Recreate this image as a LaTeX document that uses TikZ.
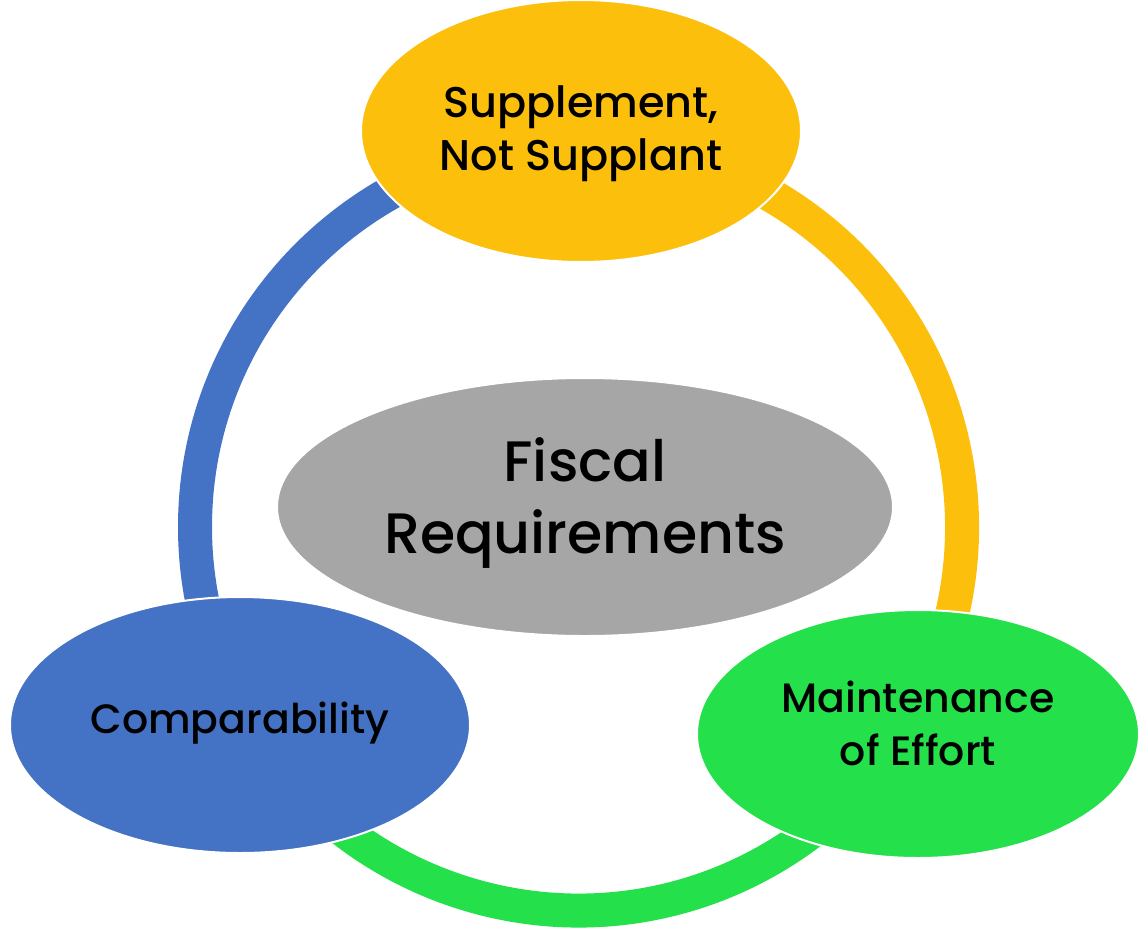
\documentclass[tikz,border=0pt]{standalone}
\usepackage{fontspec}
\setmainfont{Poppins Medium}
\usetikzlibrary{shapes.geometric}
\definecolor{cgold}{HTML}{FCBF0C}
\definecolor{cblue}{HTML}{4472C4}
\definecolor{cgreen}{HTML}{24E04A}
\definecolor{cgray}{HTML}{A6A6A6}
\begin{document}
\begin{tikzpicture}[x=1pt,y=1pt,
  ring/.style={line width=34pt},
  bubble/.style={ellipse, draw=white, line width=2pt, inner sep=0pt},
  words/.style={align=center, text=black, inner sep=0pt},
  small/.style={font=\fontsize{41}{53}\selectfont},
  topf/.style={font=\fontsize{43}{53}\selectfont},
  big/.style={font=\fontsize{57}{72}\selectfont}]
\fill[white] (0,0) rectangle (1139,-932);
\useasboundingbox (0,0) rectangle (1139,-932);
\coordinate (ctr) at (578.5,-527);
% ring
\draw[ring, cblue] ([shift={(90:383.5pt)}]ctr) arc[start angle=90, end angle=210, radius=383.5pt];
\draw[ring, cgold] ([shift={(-30:383.5pt)}]ctr) arc[start angle=-30, end angle=90, radius=383.5pt];
\draw[ring, cgreen] ([shift={(210:383.5pt)}]ctr) arc[start angle=210, end angle=330, radius=383.5pt];
% bubbles
\node[bubble, fill=cgold, minimum width=440pt, minimum height=262pt] (supp) at (581,-131) {};
\node[bubble, fill=cgray, minimum width=616pt, minimum height=258pt] (fisc) at (585,-507) {};
\node[bubble, fill=cblue, minimum width=460pt, minimum height=256pt] (comp) at (240,-725) {};
\node[bubble, fill=cgreen, minimum width=442pt, minimum height=248pt] (main) at (918,-734) {};
% texts
\node[words, topf] (suppt) at ([yshift=-3pt]supp.center) {Supplement,\\Not Supplant};
\node[words, big] (fisct) at ([yshift=4pt]fisc.center) {Fiscal\\Requirements};
\node[words, small] (compt) at ([yshift=2pt]comp.center) {Comparability};
\node[words, small] (maint) at ([yshift=11pt]main.center) {Maintenance\\of Effort};
\end{tikzpicture}
\end{document}
